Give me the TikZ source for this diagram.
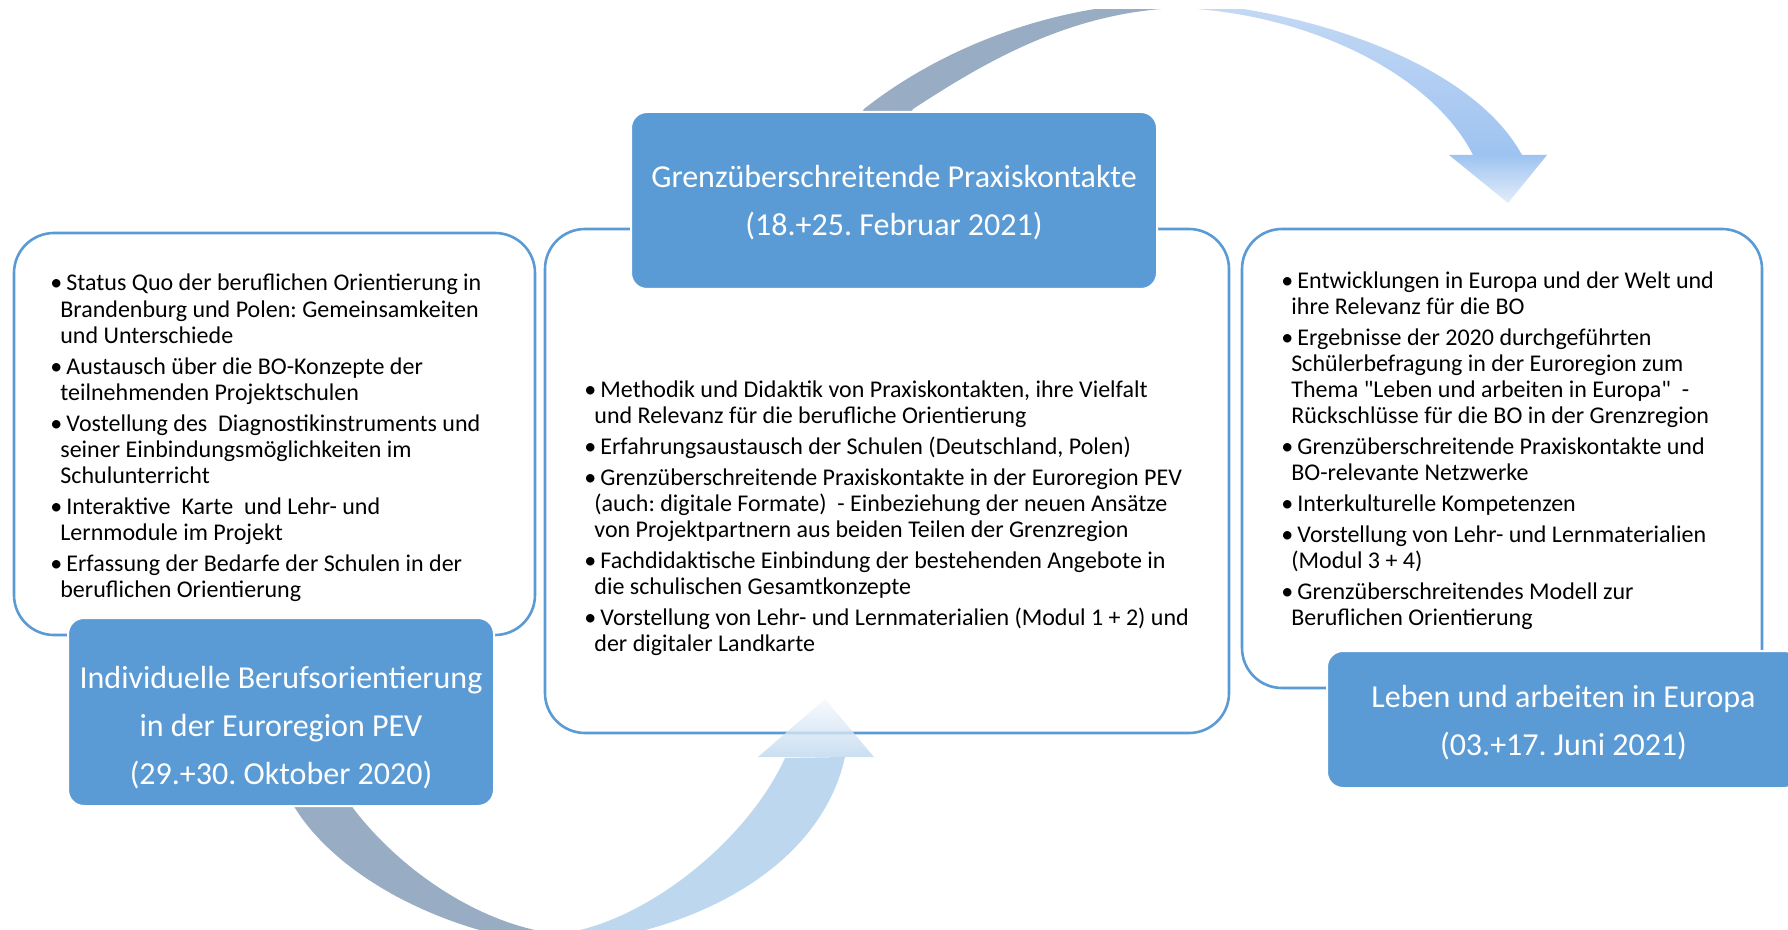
\documentclass[tikz,border=0pt]{standalone}
\usepackage{fontspec}
\setmainfont{Carlito}
\frenchspacing

\definecolor{boxblue}{HTML}{5B9BD5}
\definecolor{arrowgray}{HTML}{98ADC4}
\definecolor{arrowblue}{HTML}{BDD7EE}
\definecolor{topblue}{HTML}{C5D9F4}
\definecolor{headblue}{HTML}{9EC3F1}
\definecolor{tipblue}{HTML}{E4EDFA}
\definecolor{tipwhite}{HTML}{F6F9FD}

% bullet and hanging indent for the lists
\newcommand{\bitem}{\makebox[8pt][l]{\textbullet}}
\newcommand{\bcont}{\hspace*{5pt}}

\begin{document}
\begin{tikzpicture}
        [x=0.5pt, y=-0.5pt,
        panel/.style={rectangle, rounded corners=20pt, draw=boxblue, line width=1.3pt, fill=white},
        header/.style={rectangle, rounded corners=8pt, draw=white, line width=1pt, fill=boxblue},
        title/.style={align=center, text=white, inner sep=0pt, font=\fontsize{16}{24}\selectfont},
        items/.style={align=left, anchor=base west, inner sep=0pt, font=\fontsize{12}{13.1}\selectfont}]

        \useasboundingbox (0,0) rectangle (1788,930);
        \clip (0,0) rectangle (1788,930);

        % White boxes for the three workshops
        \node[panel, minimum width=260.5pt, minimum height=201pt] (lbox) at (274.5,434) {};
        \node[panel, minimum width=342pt, minimum height=252pt] (cbox) at (887,481) {};
        \node[panel, minimum width=260pt, minimum height=229.5pt] (rbox) at (1502,458.5) {};

        % Curved arrows (cut at the top and bottom edge)
        \begin{scope}
        \clip (0,10) rectangle (1788,930);
        \fill[arrowgray] (840,150) -- (864,109) .. controls (945,45) and (1060,2) .. (1178,2)
            -- (1178,8) .. controls (1070,12) and (985,62) .. (913,109) -- (890,150) -- cycle;
        \shade[top color=topblue, middle color=topblue, bottom color=headblue]
            (1178,2) .. controls (1300,8) and (1470,60) .. (1522,155)
            -- (1473,155) .. controls (1430,70) and (1300,12) .. (1178,8) -- cycle;
        \shade[top color=headblue, bottom color=tipblue] (1449,155) -- (1547,155) -- (1508,203) -- cycle;

        \fill[arrowgray] (270,770) -- (295,808) .. controls (340,880) and (450,935) .. (558,945)
            -- (558,934) .. controls (480,925) and (400,870) .. (353,808) -- (330,770) -- cycle;
        \fill[arrowblue] (558,934) .. controls (640,925) and (745,845) .. (785,758)
            -- (845,757) .. controls (820,870) and (690,935) .. (558,945) -- cycle;
        \shade[top color=tipwhite, bottom color=arrowblue, fill opacity=0.8] (758,757) -- (874,757) -- (825,699) -- cycle;
        \end{scope}

        % Bullet lists (anchored at the baseline of the last line)
        \node[items] (ltext) at (50,597.5) {%
            \bitem Status Quo der beruflichen Orientierung in\\
            \bcont Brandenburg und Polen: Gemeinsamkeiten\\
            \bcont und Unterschiede\\[2.3pt]
            \bitem Austausch über die BO-Konzepte der\\
            \bcont teilnehmenden Projektschulen\\[2.3pt]
            \bitem Vostellung des\ \ Diagnostikinstruments und\\
            \bcont seiner Einbindungsmöglichkeiten im\\
            \bcont Schulunterricht\\[2.3pt]
            \bitem Interaktive\ \ Karte\ \ und Lehr- und\\
            \bcont Lernmodule im Projekt\\[2.3pt]
            \bitem Erfassung der Bedarfe der Schulen in der\\
            \bcont beruflichen Orientierung};
        \node[items] (ctext) at (584,651.5) {%
            \bitem Methodik und Didaktik von Praxiskontakten, ihre Vielfalt\\
            \bcont und Relevanz für die berufliche Orientierung\\[2.3pt]
            \bitem Erfahrungsaustausch der Schulen (Deutschland, Polen)\\[2.3pt]
            \bitem Grenzüberschreitende Praxiskontakte in der Euroregion PEV\\
            \bcont (auch: digitale Formate)\ \ - Einbeziehung der neuen Ansätze\\
            \bcont von Projektpartnern aus beiden Teilen der Grenzregion\\[2.3pt]
            \bitem Fachdidaktische Einbindung der bestehenden Angebote in\\
            \bcont die schulischen Gesamtkonzepte\\[2.3pt]
            \bitem Vorstellung von Lehr- und Lernmaterialien (Modul 1 + 2) und\\
            \bcont der digitaler Landkarte};
        \node[items] (rtext) at (1281,625.5) {%
            \bitem Entwicklungen in Europa und der Welt und\\
            \bcont ihre Relevanz für die BO\\[2.3pt]
            \bitem Ergebnisse der 2020 durchgeführten\\
            \bcont Schülerbefragung in der Euroregion zum\\
            \bcont Thema \textquotedbl Leben und arbeiten in Europa\textquotedbl\ \ -\\
            \bcont Rückschlüsse für die BO in der Grenzregion\\[2.3pt]
            \bitem Grenzüberschreitende Praxiskontakte und\\
            \bcont BO-relevante Netzwerke\\[2.3pt]
            \bitem Interkulturelle Kompetenzen\\[2.3pt]
            \bitem Vorstellung von Lehr- und Lernmaterialien\\
            \bcont (Modul 3 + 4)\\[2.3pt]
            \bitem Grenzüberschreitendes Modell zur\\
            \bcont Beruflichen Orientierung};

        % Blue title boxes
        \node[header, minimum width=213pt, minimum height=94pt] (lhead) at (281,712) {};
        \node[header, minimum width=263pt, minimum height=88.5pt] (chead) at (894,200.5) {};
        \node[header, minimum width=236.5pt, minimum height=68.5pt] (rhead) at (1563.5,719.5) {};

        \node[title] (ltitle) at ([yshift=-8pt]lhead.center) {Individuelle Berufsorientierung\\in der Euroregion PEV\\(29.+30. Oktober 2020)};
        \node[title] (ctitle) at ([yshift=-1pt]chead.center) {Grenzüberschreitende Praxiskontakte\\(18.+25. Februar 2021)};
        \node[title] (rtitle) at ([yshift=-1.5pt]rhead.center) {Leben und arbeiten in Europa\\(03.+17. Juni 2021)};

    \end{tikzpicture}
\end{document}
